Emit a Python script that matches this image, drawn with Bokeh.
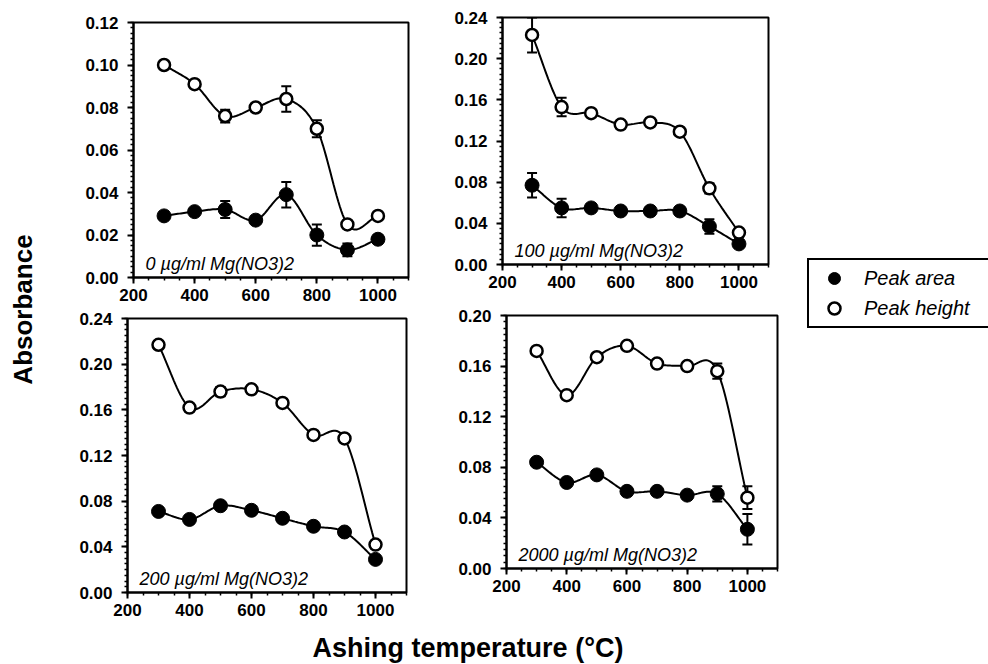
import numpy as np
from bokeh.plotting import figure
from bokeh.models import (ColumnDataSource, FixedTicker, NumeralTickFormatter, Whisker,
                          TeeHead, Label, Legend, LegendItem, Range1d, Spacer)
from bokeh.layouts import row, column
from bokeh.embed import file_html
from bokeh.resources import INLINE

# ---------------- data ----------------
temps = [300, 400, 500, 600, 700, 800, 900, 1000]
x_major_ticks = [200, 400, 600, 800, 1000]

panel_titles = ["0 \u00b5g/ml Mg(NO3)2", "100 \u00b5g/ml Mg(NO3)2",
                "200 \u00b5g/ml Mg(NO3)2", "2000 \u00b5g/ml Mg(NO3)2"]

area_0 = [0.029, 0.031, 0.032, 0.027, 0.039, 0.020, 0.013, 0.018]
area_0_err = [0, 0, 0.004, 0, 0.006, 0.005, 0.003, 0]
height_0 = [0.100, 0.091, 0.076, 0.080, 0.084, 0.070, 0.025, 0.029]
height_0_err = [0, 0, 0.003, 0, 0.006, 0.004, 0, 0]

area_100 = [0.077, 0.055, 0.055, 0.052, 0.052, 0.052, 0.037, 0.020]
area_100_err = [0.012, 0.009, 0, 0, 0, 0, 0.007, 0]
height_100 = [0.223, 0.153, 0.147, 0.136, 0.138, 0.129, 0.074, 0.031]
height_100_err = [0.017, 0.009, 0, 0, 0, 0, 0.005, 0]

area_200 = [0.071, 0.064, 0.076, 0.072, 0.065, 0.058, 0.053, 0.029]
area_200_err = [0.003, 0, 0.003, 0, 0, 0, 0.002, 0]
height_200 = [0.217, 0.162, 0.176, 0.178, 0.166, 0.138, 0.135, 0.042]
height_200_err = [0, 0, 0.004, 0, 0, 0, 0.003, 0]

area_2000 = [0.084, 0.068, 0.074, 0.061, 0.061, 0.058, 0.059, 0.031]
area_2000_err = [0.003, 0, 0.003, 0, 0, 0, 0.006, 0.012]
height_2000 = [0.172, 0.137, 0.167, 0.176, 0.162, 0.160, 0.156, 0.056]
height_2000_err = [0, 0, 0, 0, 0, 0, 0.006, 0.009]

y_max = [0.12, 0.24, 0.24, 0.20]
y_step = [0.02, 0.04, 0.04, 0.04]

FONT = "Liberation Sans"
L, R, T, B = 60, 10, 10, 31   # uniform borders of the four panels


def smooth(xs, ys, n=20):
    """Cardinal (Catmull-Rom) curve drawn through the data points."""
    x = np.asarray(xs, float)
    y = np.asarray(ys, float)
    tx = np.gradient(x)
    ty = np.gradient(y)
    ox, oy = [], []
    m = len(x)
    for i in range(m - 1):
        t = np.linspace(0, 1, n, endpoint=(i == m - 2))
        h00 = 2 * t**3 - 3 * t**2 + 1
        h10 = t**3 - 2 * t**2 + t
        h01 = -2 * t**3 + 3 * t**2
        h11 = t**3 - t**2
        ox.extend(h00 * x[i] + h10 * tx[i] + h01 * x[i + 1] + h11 * tx[i + 1])
        oy.extend(h00 * y[i] + h10 * ty[i] + h01 * y[i + 1] + h11 * ty[i + 1])
    return ox, oy


def make_panel(title, area, area_err, height, height_err, ymax, ystep, fw, fh):
    p = figure(width=L + fw + R, height=T + fh + B, output_backend="svg", toolbar_location=None,
               x_range=Range1d(200, 1100), y_range=Range1d(0, ymax),
               min_border_left=L, min_border_right=R,
               min_border_top=T, min_border_bottom=B)
    p.grid.visible = False
    p.outline_line_color = "black"
    p.outline_line_width = 2
    p.outline_line_alpha = 1
    p.background_fill_color = "white"
    p.border_fill_color = "white"

    yt = list(np.round(np.arange(0, ymax + 1e-9, ystep), 4))
    ym = list(np.round(np.arange(0, ymax + 1e-9, ystep / 8), 5))
    xm = list(range(200, 1101, 50))
    p.xaxis.ticker = FixedTicker(ticks=x_major_ticks, minor_ticks=xm)
    p.yaxis.ticker = FixedTicker(ticks=yt, minor_ticks=ym)
    p.yaxis.formatter = NumeralTickFormatter(format="0.00")
    for ax in p.axis:
        ax.axis_line_width = 2
        ax.axis_line_color = "black"
        ax.major_tick_line_width = 2
        ax.minor_tick_line_width = 1.5
        ax.major_tick_out = 6
        ax.major_tick_in = 0
        ax.minor_tick_out = 3
        ax.minor_tick_in = 0
        ax.major_label_text_font = FONT
        ax.major_label_text_font_style = "bold"
        ax.major_label_text_font_size = "17px"
        ax.major_label_text_color = "black"
    p.xaxis.major_label_standoff = 5
    p.yaxis.major_label_standoff = 9

    # curves
    hx, hy = smooth(temps, height)
    ax_, ay_ = smooth(temps, area)
    p.line(hx, hy, line_color="black", line_width=2)
    p.line(ax_, ay_, line_color="black", line_width=2)

    # error bars (only where an error is visible)
    for vals, errs in ((area, area_err), (height, height_err)):
        idx = [i for i, e in enumerate(errs) if e > 0]
        if idx:
            src = ColumnDataSource(dict(
                x=[temps[i] for i in idx],
                lo=[vals[i] - errs[i] for i in idx],
                hi=[vals[i] + errs[i] for i in idx]))
            w = Whisker(source=src, base="x", lower="lo", upper="hi", dimension="height",
                        line_color="black", line_width=2,
                        upper_head=TeeHead(size=10, line_width=2, line_color="black"),
                        lower_head=TeeHead(size=10, line_width=2, line_color="black"))
            p.add_layout(w)

    p.scatter(temps, area, marker="circle", size=14, fill_color="black", line_color="black")
    p.scatter(temps, height, marker="circle", size=12, fill_color="white",
              line_color="black", line_width=2.5)

    p.add_layout(Label(x=12, y=14, x_units="screen", y_units="screen", text=title,
                       text_font=FONT, text_font_style="italic",
                       text_font_size="18px", text_color="black",
                       text_baseline="alphabetic", text_align="left"))
    return p


p1 = make_panel(panel_titles[0], area_0, area_0_err, height_0, height_0_err,
                y_max[0], y_step[0], fw=275, fh=255)
p2 = make_panel(panel_titles[1], area_100, area_100_err, height_100, height_100_err,
                y_max[1], y_step[1], fw=266, fh=247)
p3 = make_panel(panel_titles[2], area_200, area_200_err, height_200, height_200_err,
                y_max[2], y_step[2], fw=279, fh=274)
p4 = make_panel(panel_titles[3], area_2000, area_2000_err, height_2000, height_2000_err,
                y_max[3], y_step[3], fw=271, fh=253)


def blank(width, height, **kw):
    f = figure(width=width, height=height, output_backend="svg", toolbar_location=None,
               x_axis_location=None, y_axis_location=None,
               min_border_left=0, min_border_right=0, min_border_top=0, min_border_bottom=0, **kw)
    f.grid.visible = False
    f.outline_line_color = None
    f.background_fill_color = "white"
    f.border_fill_color = "white"
    return f


def placed(fig, dx, dy):
    """Offset a panel by blank space to the left (dx) and above (dy)."""
    item = row(Spacer(width=dx, height=fig.height), fig) if dx > 0 else fig
    if dy > 0:
        item = column(Spacer(width=dx + fig.width, height=dy), item)
    return item


ylab = blank(40, 664)
ylab.add_layout(Label(x=22, y=355, x_units="screen", y_units="screen", text="Absorbance",
                      angle=np.pi / 2, text_font=FONT, text_font_style="bold",
                      text_font_size="26px", text_align="center", text_baseline="middle",
                      text_color="black"))

xlab = blank(747, 41)
xlab.add_layout(Label(x=435, y=17, x_units="screen", y_units="screen",
                      text="Ashing  temperature  (\u00b0C)",
                      text_font=FONT, text_font_style="bold",
                      text_font_size="27px", text_align="center", text_baseline="middle",
                      text_color="black"))

legfig = blank(201, 664, x_range=Range1d(0, 1), y_range=Range1d(0, 1))
# legend-only renderers: the series lie outside this figure's view
r_area = legfig.scatter(temps, area_0, marker="circle", size=13,
                        fill_color="black", line_color="black")
r_height = legfig.scatter(temps, height_0, marker="circle", size=12,
                          fill_color="white", line_color="black", line_width=2.5)
legend = Legend(items=[LegendItem(label="Peak area", renderers=[r_area]),
                       LegendItem(label="Peak height", renderers=[r_height])],
                location=(20, 336), orientation="vertical",
                border_line_color="black", border_line_width=2, border_line_alpha=1,
                background_fill_color="white", background_fill_alpha=1,
                padding=3, spacing=0, margin=0,
                glyph_width=44, glyph_height=30, label_height=30, label_width=200,
                label_standoff=8,
                label_text_font=FONT, label_text_font_style="italic",
                label_text_font_size="20px", label_text_color="black")
legfig.add_layout(legend, "center")

# left column: panels 1 and 3; right column: panels 2 and 4 (x offsets from 40 / 418)
colA = column(placed(p1, 33, 12), placed(p3, 27, 0))
colB = column(placed(p2, 24, 7), placed(p4, 28, 10))
layout = row(ylab, column(row(colA, colB), xlab), legfig)

open("out.html", "w").write(file_html(layout, INLINE))
